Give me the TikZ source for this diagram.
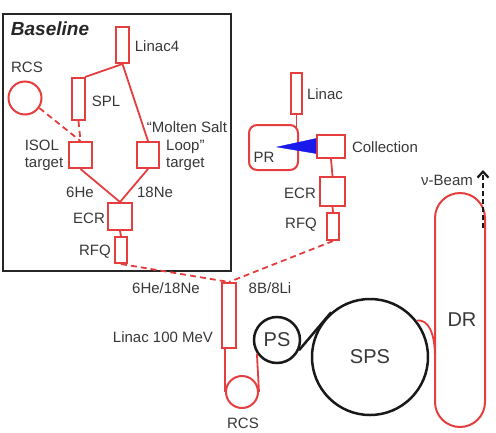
\documentclass[tikz,border=0pt]{standalone}
\usepackage{fontspec}
\setmainfont{Liberation Sans}
\usetikzlibrary{arrows.meta}
\definecolor{rd}{RGB}{228,62,62}
\definecolor{tx}{RGB}{55,55,55}
\definecolor{bl}{RGB}{25,25,235}
\begin{document}
\begin{tikzpicture}[x=1pt,y=-1pt,
  box/.style={draw=rd, line width=2pt, inner sep=0pt, fill=white},
  lbl/.style={text=tx, font=\fontsize{15}{17}\selectfont, inner sep=0pt, align=left},
  big/.style={text=tx, font=\fontsize{20}{24}\selectfont},
  conn/.style={draw=rd, line width=1.8pt},
  dconn/.style={conn, dash pattern=on 6pt off 4pt},
  ring/.style={circle, draw=black!90, line width=2.5pt, inner sep=0pt}]
\useasboundingbox (0,0) rectangle (496,432);
% Baseline frame
\node[draw=black!85, line width=2pt, minimum width=228pt, minimum height=257pt, inner sep=0pt] (basebox) at (117,142.5) {};
\node[text=black!85, font=\fontsize{19}{22}\selectfont\bfseries\itshape, inner sep=0pt] (basetitle) at (50,29) {Baseline};
% left chain
\node[box, minimum width=13pt, minimum height=36pt] (linac4) at (122.5,45) {};
\node[box, minimum width=13pt, minimum height=42pt] (spl) at (78.5,99) {};
\node[box, minimum width=23pt, minimum height=26pt] (isol) at (80.5,155) {};
\node[box, minimum width=22pt, minimum height=26pt] (msl) at (148,155) {};
\node[box, minimum width=24pt, minimum height=27pt] (ecrL) at (120,216.5) {};
\node[box, minimum width=12pt, minimum height=26pt] (rfqL) at (121,250) {};
\node[circle, draw=rd, line width=2pt, minimum size=33pt, inner sep=0pt] (rcsL) at (25,98) {};
% right chain
\node[box, minimum width=11pt, minimum height=41pt] (linacR) at (296.5,93.5) {};
\node[box, minimum width=49pt, minimum height=45pt, rounded corners=8pt] (pr) at (273.5,147.5) {};
\node[box, minimum width=28pt, minimum height=23pt] (coll) at (331,146.5) {};
\node[box, minimum width=25pt, minimum height=29pt] (ecrR) at (332.5,191.5) {};
\node[box, minimum width=12pt, minimum height=27pt] (rfqR) at (333,226.5) {};
% main line
\node[box, minimum width=14pt, minimum height=65pt] (linac100) at (229,315.5) {};
\node[circle, draw=rd, line width=2pt, minimum size=32pt, inner sep=0pt] (rcsB) at (242,392) {};
\node[ring, minimum size=46pt, big] (ps) at (277,340) {PS};
\node[ring, minimum size=116pt, big] (sps) at (370,357) {SPS};
\node[draw=rd, line width=2pt, minimum width=50pt, minimum height=234pt, rounded corners=25pt, inner sep=0pt] (dr) at (460,310) {};
\node[big, inner sep=0pt] (drl) at (462,320) {DR};
\coordinate (drj) at (435,358);
\coordinate (beamS) at (483,228);
\coordinate (beamE) at (483,170);
\coordinate (prtip) at (277,147);
% connectors
\draw[conn] (linac4.south) -- ([xshift=-1pt]spl.north east);
\draw[conn] (linac4.south) -- (msl.north);
\draw[dconn] (spl.south) -- (isol.north);
\draw[dconn] (rcsL.-35) -- (isol.north);
\draw[conn] (isol.south) -- (ecrL.north);
\draw[conn] (msl.south) -- (ecrL.north);
\draw[conn] (ecrL.south) -- (rfqL.north);
\draw[dconn] (rfqL.south) -- (linac100.north);
\draw[dconn] (rfqR.south) -- (linac100.north);
\draw[conn] (linacR.south) -- ([yshift=-3pt]linacR.south |- pr.north);
\draw[conn] (coll.south) -- (ecrR.north);
\draw[conn] (ecrR.south) -- (rfqR.north);
\draw[conn] (rcsB.west |- linac100.south) -- (rcsB.west);
\draw[conn] (ps.214) -- (rcsB.east);
\draw[black!90, line width=2.5pt] (ps.-25) -- (sps.131);
\draw[conn] (sps.38) .. controls (428,319) and (435,332) .. (drj);
\draw[draw=bl, fill=bl] (prtip) -- ([yshift=-7pt]coll.west) -- ([yshift=8pt]coll.west) -- cycle;
\draw[black!90, line width=2.2pt, dash pattern=on 5pt off 3pt, -{Straight Barb[length=6pt,width=11pt]}] (beamS) -- (beamE);
% labels
\node[lbl] (t1) at (157,46) {Linac4};
\node[lbl] (t2) at (27,67) {RCS};
\node[lbl] (t3) at (106,101) {SPL};
\node[lbl] (t4) at (44,155) {ISOL\\target};
\node[lbl] (t5) at (187,127) {“Molten Salt};
\node[lbl, anchor=west] (t6) at (166,155) {Loop”\\target};
\node[lbl] (t7) at (80,192) {6He};
\node[lbl] (t8) at (155,192) {18Ne};
\node[lbl] (t9) at (89,218) {ECR};
\node[lbl] (t10) at (95,252) {RFQ};
\node[lbl] (t11) at (325,94) {Linac};
\node[lbl] (t12) at (264,157) {PR};
\node[lbl] (t13) at (385,147) {Collection};
\node[lbl] (t14) at (300,193) {ECR};
\node[lbl] (t15) at (301,225) {RFQ};
\node[lbl] (t16) at (166,288) {6He/18Ne};
\node[lbl] (t17) at (270,288) {8B/8Li};
\node[lbl] (t18) at (163,337) {Linac 100 MeV};
\node[lbl] (t19) at (243,423) {RCS};
\node[lbl] (t20) at (447,180) {ν-Beam};
\end{tikzpicture}
\end{document}
